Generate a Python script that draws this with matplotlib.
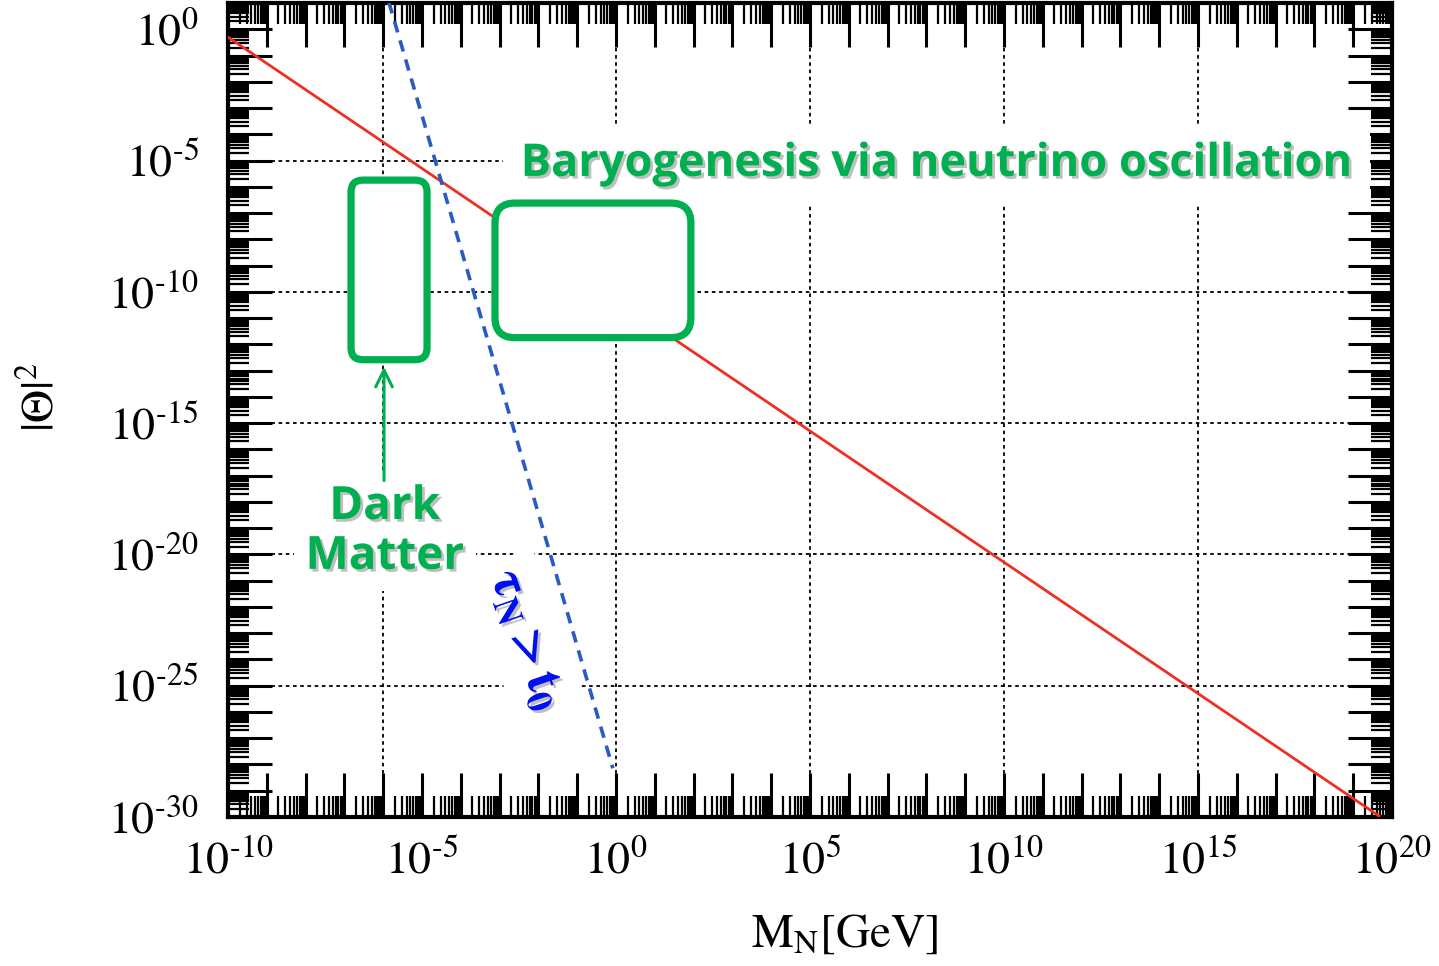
import numpy as np
import matplotlib
matplotlib.use("Agg")
import matplotlib.pyplot as plt
from matplotlib.ticker import LogLocator, FuncFormatter
from matplotlib.patches import FancyBboxPatch
import matplotlib.patheffects as pe

# ---------------- data ----------------
# seesaw line  |Theta|^2 ~ m_nu / M_N
seesaw_mass = [1e-10, 4.6e19]
seesaw_theta2 = [0.5, 1.1e-30]
# lifetime bound  tau_N > t_0
tau_mass = [1.4e-6, 0.83]
tau_theta2 = [10.7, 7.2e-29]
# highlighted regions (M_N range, |Theta|^2 range)
dm_box_mass = [1.48e-7, 1.35e-5]
dm_box_theta2 = [2.6e-13, 1.8e-6]
bau_box_mass = [7.6e-4, 85.0]
bau_box_theta2 = [1.8e-12, 2.4e-7]
# dotted guide lines
grid_mass = [1e-6, 1e0, 1e5, 1e10, 1e15]
grid_theta2 = [1e-5, 1e-10, 1e-15, 1e-20, 1e-25]
# axis ranges
x_limits = [1e-10, 1e20]
y_limits = [1e-30, 1e1]
label_every = 5

GREEN = "#00B050"
RED = "#EE3024"
BLUE_LINE = "#2A5BC2"
BLUE_TEXT = "#0010F0"

plt.rcParams["mathtext.fontset"] = "stix"
plt.rcParams["font.family"] = ["STIXGeneral", "DejaVu Serif"]

W, H = 1439, 966
fig = plt.figure(figsize=(W / 100, H / 100), dpi=100)
ax_l, ax_r, ax_t, ax_b = 228, 1392, 3, 817
ax = fig.add_axes([ax_l / W, 1 - ax_b / H, (ax_r - ax_l) / W, (ax_b - ax_t) / H])
ax.set_xscale("log")
ax.set_yscale("log")
ax.set_xlim(*x_limits)
ax.set_ylim(*y_limits)

# ticks
for axis in (ax.xaxis, ax.yaxis):
    axis.set_major_locator(LogLocator(base=10, numticks=200))
    axis.set_minor_locator(LogLocator(base=10, subs=np.arange(2, 10), numticks=200))
    axis.set_minor_formatter(FuncFormatter(lambda v, p: ""))


def fmt(v, pos):
    e = int(round(np.log10(v)))
    if e % label_every == 0:
        if e < 0:
            return r"$10^{\text{-}%d}$" % (-e)
        return r"$10^{%d}$" % e
    return ""


ax.xaxis.set_major_formatter(FuncFormatter(fmt))
ax.yaxis.set_major_formatter(FuncFormatter(fmt))
ax.tick_params(which="both", direction="in", top=True, right=True, color="black")
ax.tick_params(which="major", length=31.5, width=2.2, labelsize=33)
ax.tick_params(which="minor", length=15, width=1.6)
ax.tick_params(axis="x", which="major", pad=17)
ax.tick_params(axis="y", which="major", pad=21)
for s in ax.spines.values():
    s.set_linewidth(3)

# dotted guide lines
for gx in grid_mass:
    ax.axvline(gx, color="black", lw=1.3, ls=(0, (2, 2)), zorder=1.5)
for gy in grid_theta2:
    ax.axhline(gy, color="black", lw=1.3, ls=(0, (2, 2)), zorder=1.5)

# curves
ax.plot(seesaw_mass, seesaw_theta2, color=RED, lw=2.0, zorder=3)
ax.plot(tau_mass, tau_theta2, color=BLUE_LINE, lw=2.6, ls=(0, (3.2, 2.3)), zorder=3)

# rounded boxes (positions given in data units, drawn in axes coords so corners stay round)
fig.canvas.draw()
ax_w_px = ax_r - ax_l
ax_h_px = ax_b - ax_t
to_axes = ax.transAxes.inverted()


def rbox(xs, ys, radius_px):
    p0 = to_axes.transform(ax.transData.transform((xs[0], ys[0])))
    p1 = to_axes.transform(ax.transData.transform((xs[1], ys[1])))
    r = radius_px / ax_w_px
    patch = FancyBboxPatch((p0[0], p0[1]), p1[0] - p0[0], p1[1] - p0[1],
                           boxstyle="round,pad=0,rounding_size=%f" % r,
                           mutation_aspect=ax_w_px / ax_h_px,
                           transform=ax.transAxes, facecolor="white",
                           edgecolor=GREEN, lw=5.2, zorder=4.5)
    ax.add_patch(patch)


rbox(dm_box_mass, dm_box_theta2, 12)
rbox(bau_box_mass, bau_box_theta2, 20)

shadow = [pe.SimplePatchShadow(offset=(2, -2), shadow_rgbFace="0.45", alpha=0.45), pe.Normal()]

t1 = ax.text(1.8e8, 2.6e-6, "Baryogenesis via neutrino oscillation", color=GREEN,
             fontsize=32.5, fontweight="bold", family=["Open Sans", "DejaVu Sans"],
             ha="center", va="baseline", zorder=4,
             bbox=dict(boxstyle="square,pad=0.4", facecolor="white", edgecolor="none"))
t1.set_path_effects(shadow)

t2 = ax.text(1.1e-6, 7.5e-20, "Dark\nMatter", color=GREEN, fontsize=33,
             fontweight="bold", family=["Open Sans", "DejaVu Sans"], ha="center",
             va="center", linespacing=1.08, zorder=4,
             bbox=dict(boxstyle="square,pad=0.25", facecolor="white", edgecolor="none"))
t2.set_path_effects(shadow)

ax.annotate("", xy=(1.05e-6, 1.4e-13), xytext=(1.05e-6, 6.5e-18),
            arrowprops=dict(arrowstyle="->", color=GREEN, lw=2.2, mutation_scale=30,
                            shrinkA=0, shrinkB=0), zorder=4)

t3 = ax.text(4.8e-3, 5.4e-24, r"$\mathbf{\tau_N > t_0}$", color=BLUE_TEXT, fontsize=37,
             rotation=-71, ha="center", va="center", rotation_mode="anchor", zorder=4,
             bbox=dict(boxstyle="square,pad=0.25", facecolor="white", edgecolor="none"))
t3.set_path_effects(shadow)

ax.set_xlabel(r"$\mathrm{M_N[GeV]}$", fontsize=34)
ax.xaxis.set_label_coords((845 - ax_l) / ax_w_px, -(913 - ax_b) / ax_h_px)
ax.set_ylabel(r"$|\Theta|^2$", fontsize=33)
ax.yaxis.set_label_coords(-(ax_l - 63) / ax_w_px, (ax_b - 397) / ax_h_px)

fig.savefig("out.png", dpi=100)
